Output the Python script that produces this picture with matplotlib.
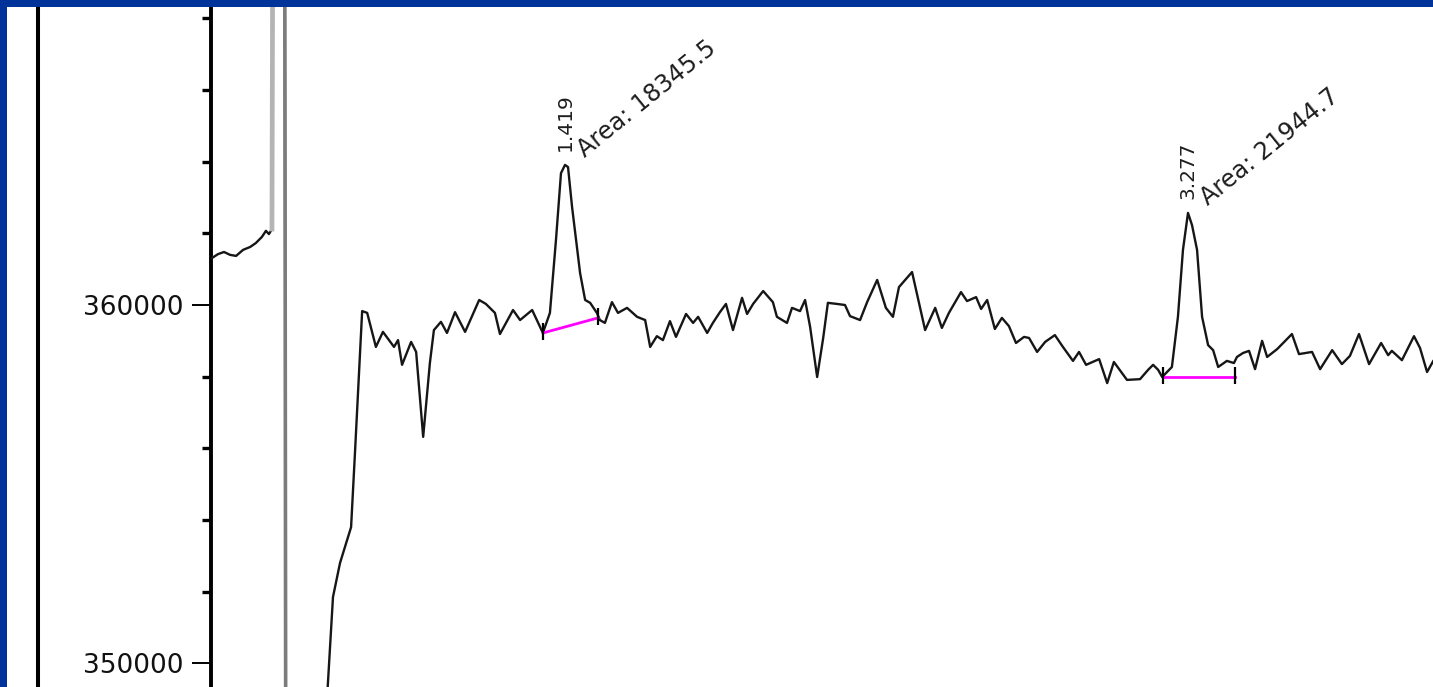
import matplotlib
matplotlib.use("Agg")
import matplotlib.pyplot as plt
from matplotlib.patches import Rectangle
from matplotlib.lines import Line2D
from matplotlib.ticker import MultipleLocator

# Chromatogram trace: retention time (min) and detector signal
time_min = [
    0.366, 0.384, 0.402, 0.420, 0.438, 0.459, 0.480, 0.497, 0.515, 0.527, 0.536, 0.545,
    0.550, 0.582, 0.587, 0.688,
    0.709, 0.727, 0.748, 0.781, 0.793, 0.814, 0.829, 0.855, 0.876, 0.909, 0.921, 0.933,
    0.960, 0.975, 0.996, 1.016, 1.028, 1.049, 1.067, 1.091, 1.121, 1.163, 1.183, 1.210,
    1.225, 1.264, 1.285, 1.321, 1.353, 1.374, 1.392, 1.407, 1.419, 1.428, 1.440, 1.452,
    1.464, 1.479, 1.494, 1.514, 1.523, 1.538, 1.559, 1.577, 1.604, 1.634, 1.658, 1.673,
    1.693, 1.711, 1.732, 1.750, 1.780, 1.801, 1.816, 1.843, 1.860, 1.881, 1.899, 1.920,
    1.947, 1.962, 1.980, 2.010, 2.039, 2.051, 2.081, 2.096, 2.120, 2.135, 2.150, 2.171,
    2.189, 2.203, 2.230, 2.254, 2.269, 2.299, 2.320, 2.350, 2.376, 2.397, 2.415, 2.454,
    2.493, 2.523, 2.543, 2.564, 2.600, 2.618, 2.645, 2.660, 2.678, 2.701, 2.722, 2.743,
    2.764, 2.788, 2.803, 2.827, 2.851, 2.880, 2.904, 2.934, 2.952, 2.973, 3.012, 3.036,
    3.056, 3.095, 3.134, 3.158, 3.173, 3.188, 3.200, 3.229, 3.235, 3.247, 3.262, 3.277,
    3.289, 3.304, 3.319, 3.337, 3.352, 3.367, 3.393, 3.414, 3.423, 3.441, 3.459, 3.477,
    3.498, 3.513, 3.543, 3.587, 3.608, 3.647, 3.671, 3.707, 3.736, 3.760, 3.787, 3.817,
    3.853, 3.874, 3.885, 3.915, 3.951, 3.969, 3.990, 4.008,
]
signal = [
    361310, 361420, 361480, 361400, 361370, 361540, 361620, 361730, 361900, 362070, 361980, 362120,
    380000, 380000, 340000, 340000,
    348980, 351850, 352800, 353800, 355950, 359830, 359780, 358830, 359250, 358830, 359020, 358330,
    358970, 358690, 356320, 358380, 359300, 359530, 359220, 359800, 359250, 360140, 360030, 359780,
    359190, 359860, 359580, 359860, 359220, 359780, 361810, 363680, 363910, 363850, 362740, 361810,
    360890, 360140, 360060, 359780, 359580, 359500, 360080, 359780, 359920, 359670, 359580, 358830,
    359130, 359020, 359550, 359110, 359750, 359500, 359670, 359220, 359500, 359800, 360030, 359300,
    360200, 359750, 360030, 360390, 360080, 359670, 359500, 359920, 359830, 360140, 359390, 357990,
    359080, 360060, 360030, 360000, 359690, 359580, 360080, 360700, 359920, 359670, 360500, 360920,
    359300, 359920, 359360, 359780, 360360, 360110, 360220, 359890, 360140, 359330, 359640, 359410,
    358940, 359110, 359080, 358690, 358970, 359160, 358830, 358440, 358690, 358330, 358490, 357820,
    358410, 357910, 357930, 358190, 358330, 358190, 357990, 358270, 358740, 359670, 361540, 362570,
    362230, 361540, 359670, 358880, 358740, 358270, 358440, 358380, 358550, 358660, 358720, 358210,
    359000, 358550, 358770, 359190, 358630, 358690, 358210, 358740, 358350, 358580, 359190, 358350,
    358940, 358600, 358720, 358460, 359130, 358800, 358130, 358430,
]

# Off-scale solvent front: index ranges of its rising and falling edges
solvent_rise = (11, 13)
solvent_fall = (13, 15)

# Integrated peaks
peak_rt = [1.419, 3.277]
peak_top = [363910, 362570]
peak_area = [18345.5, 21944.7]
base_t0 = [1.3534, 3.2025]
base_v0 = [359220, 357990]
base_t1 = [1.5174, 3.4172]
base_v1 = [359640, 357990]

y_major = [350000, 360000]
y_minor_step = 2000

W, H = 1433, 687
fig = plt.figure(figsize=(W / 100, H / 100), dpi=100)
fig.patch.set_facecolor("white")

ax_left = 211.3 / W
ax = fig.add_axes([ax_left, 0.0, 1.0 - ax_left, 1.0])
ax.set_facecolor("white")
ax.set_xlim(0.3641, 4.0077)
ax.set_ylim(349338, 368513)

# trace
ax.plot(time_min, signal, color="#161616", lw=1.7, zorder=3)
r0, r1 = solvent_rise
ax.plot(time_min[r0:r1], signal[r0:r1], color="#b4b4b4", lw=3.4, zorder=4)
f0, f1 = solvent_fall
ax.plot(time_min[f0:f1], signal[f0:f1], color="#7c7c7c", lw=2.6, zorder=4)

# integration baselines and their end markers
for t0, v0, t1, v1 in zip(base_t0, base_v0, base_t1, base_v1):
    ax.plot([t0, t1], [v0, v1], color="#ff00ff", lw=2.0, zorder=5)
    ax.vlines([t0, t1], [v0 - 200, v1 - 200], [v0 + 280, v1 + 280],
              colors="black", lw=1.6, zorder=6)

# peak labels
for rt, top, area in zip(peak_rt, peak_top, peak_area):
    ax.annotate(f"{rt:.3f}", xy=(rt, top), xytext=(0, 10), textcoords="offset points",
                rotation=90, ha="center", va="bottom", fontsize=14.5,
                family="DejaVu Sans", color="#1e1e1e", annotation_clip=False)
    ax.annotate(f"Area: {area:.1f}", xy=(rt, top), xytext=(14.5, 5.0),
                textcoords="offset points", rotation=39, rotation_mode="anchor",
                ha="left", va="baseline", fontsize=17.3, family="DejaVu Sans",
                color="#1e1e1e", annotation_clip=False)

# axes styling
for side in ("top", "right", "bottom"):
    ax.spines[side].set_visible(False)
ax.spines["left"].set_linewidth(2.8)
ax.spines["left"].set_color("black")
ax.set_xticks([])
ax.set_yticks(y_major, labels=[str(v) for v in y_major])
ax.yaxis.set_minor_locator(MultipleLocator(y_minor_step))
ax.tick_params(axis="y", which="major", length=13.4, width=1.4, pad=6.5,
               labelsize=19, labelcolor="#111111", direction="out")
ax.tick_params(axis="y", which="minor", length=6.7, width=2.4, direction="out")
for lbl in ax.get_yticklabels():
    lbl.set_family("DejaVu Sans")

# frame line at the left of the panel
fig.add_artist(Line2D([38 / W, 38 / W], [0, 1], transform=fig.transFigure,
                      color="black", lw=2.9, zorder=8))

# blue window border
border = "#003399"
fig.add_artist(Rectangle((0, 1 - 7 / H), 1, 7 / H, transform=fig.transFigure,
                         facecolor=border, edgecolor="none", zorder=20))
fig.add_artist(Rectangle((0, 0), 7 / W, 1, transform=fig.transFigure,
                         facecolor=border, edgecolor="none", zorder=20))

fig.savefig("out.png", dpi=100, facecolor="white")
